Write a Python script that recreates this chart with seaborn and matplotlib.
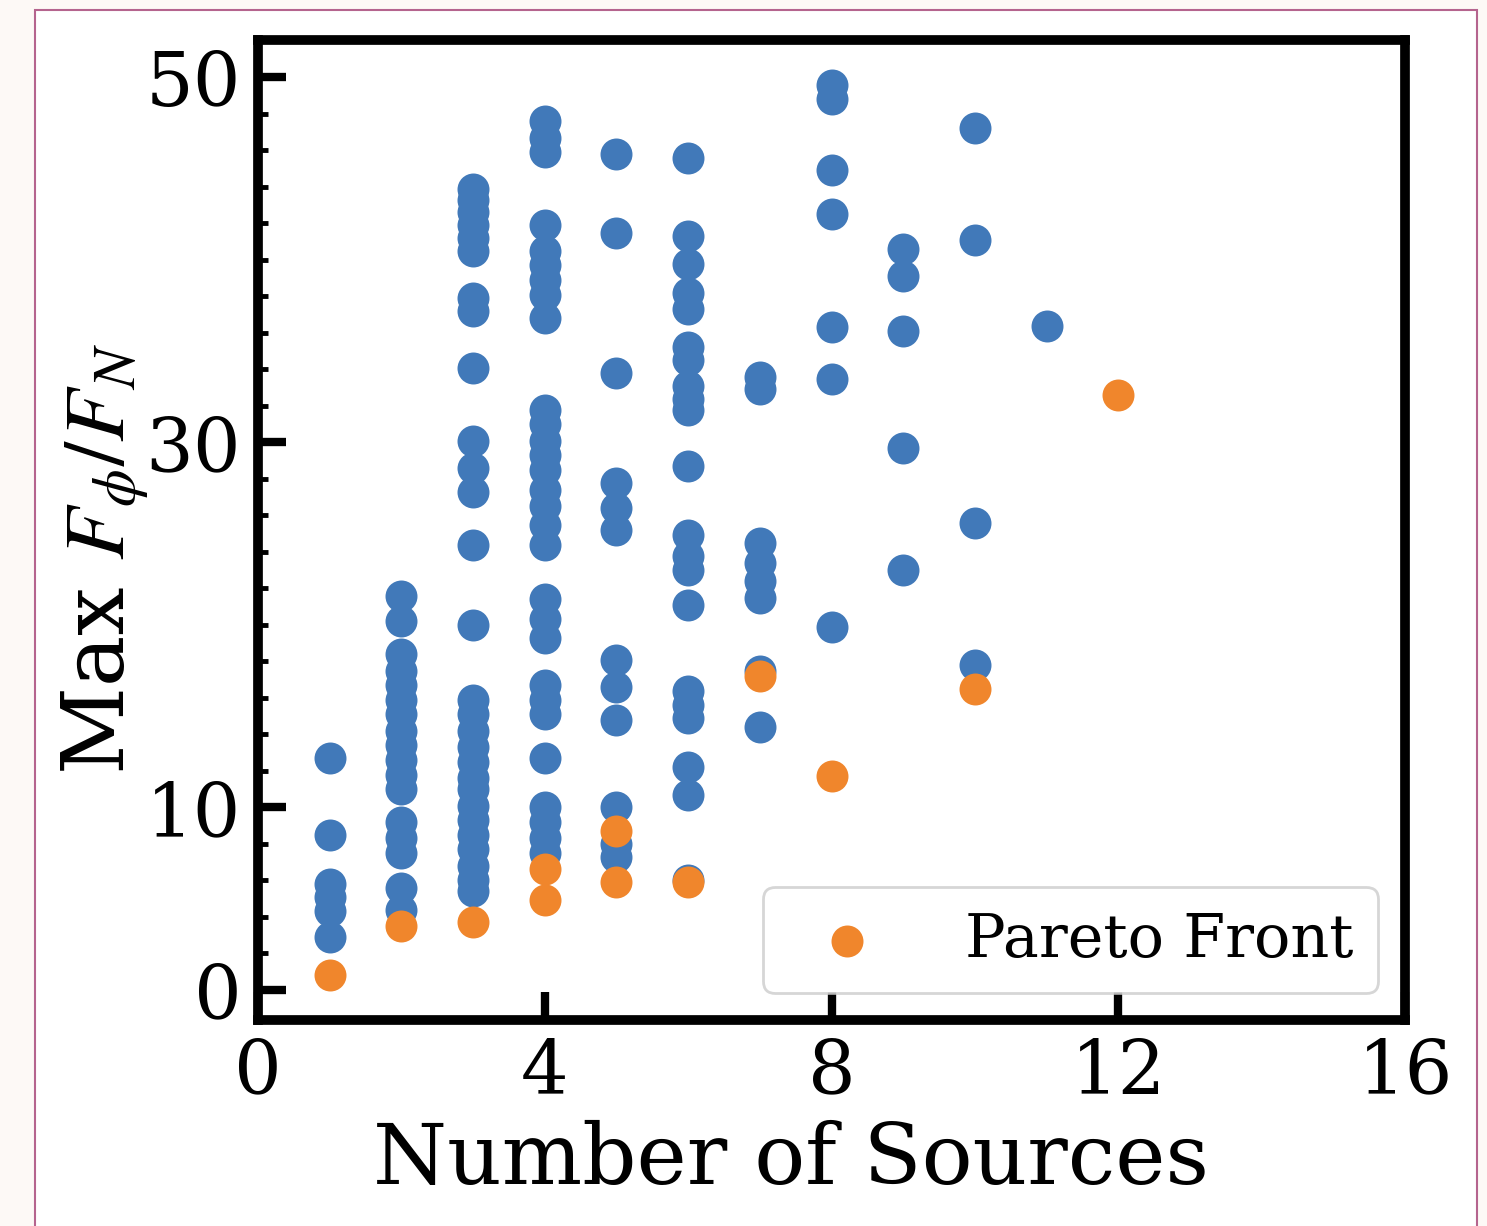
import matplotlib
matplotlib.use("Agg")
import matplotlib.pyplot as plt
import seaborn as sns
import pandas as pd
from matplotlib.patches import Rectangle
from matplotlib.ticker import MultipleLocator

# all designs: number of sources -> max F_phi/F_N
n1 = [12.7, 8.5, 5.8, 5.1, 4.3, 2.9]
n2 = [21.6, 20.2, 18.4, 17.5, 16.7, 15.9, 15.1, 14.2, 13.4, 12.6, 11.8, 11.0,
      9.2, 8.3, 7.5, 5.6, 4.4]
n3 = [43.9, 43.3, 42.6, 41.9, 41.2, 40.5, 37.9, 37.2, 34.1, 30.1, 28.6, 27.3,
      24.4, 20.0, 15.9, 15.1, 14.2, 13.3, 12.5, 11.6, 11.0, 10.1, 9.3, 8.5,
      7.7, 6.8, 6.0, 5.4]
n4 = [47.6, 46.7, 45.9, 41.9, 40.5, 39.7, 38.9, 38.1, 36.8, 31.8, 31.0, 30.1,
      29.3, 28.5, 27.4, 26.5, 25.5, 24.4, 21.4, 20.3, 19.3, 16.7, 15.9, 15.1,
      12.7, 10.0, 9.2, 8.3, 7.5]
n5 = [45.8, 41.5, 33.8, 27.8, 26.4, 25.2, 18.1, 16.6, 14.8, 10.0, 8.0, 7.3]
n6 = [45.6, 41.3, 39.8, 38.2, 37.3, 35.2, 34.5, 33.1, 32.4, 31.8, 28.7, 24.9,
      23.8, 23.0, 21.1, 16.4, 15.6, 14.9, 12.2, 10.7, 6.0]
n7 = [33.6, 32.9, 24.5, 23.4, 22.4, 21.5, 17.5, 14.4]
n8 = [49.6, 48.8, 44.9, 42.5, 36.3, 33.5, 19.9]
n9 = [40.6, 39.1, 36.1, 29.7, 23.0]
n10 = [47.2, 41.1, 25.6, 17.8]
n11 = [36.4]

pareto_x = [1, 2, 3, 4, 4, 5, 5, 6, 7, 8, 10, 12]
pareto_y = [0.8, 3.5, 3.7, 4.9, 6.6, 5.9, 8.7, 5.9, 17.2, 11.7, 16.5, 32.6]

groups = [n1, n2, n3, n4, n5, n6, n7, n8, n9, n10, n11]
rows = []
for i, vals in enumerate(groups):
    for v in vals:
        rows.append({"sources": i + 1, "ratio": v})
df = pd.DataFrame(rows)
pareto = pd.DataFrame({"sources": pareto_x, "ratio": pareto_y})

sns.set_style("ticks")
plt.rcParams["font.family"] = ["DejaVu Serif"]
plt.rcParams["mathtext.fontset"] = "stix"
for key in ["text.color", "axes.labelcolor", "xtick.color", "ytick.color"]:
    plt.rcParams[key] = "black"

fig = plt.figure(figsize=(14.87, 12.26), dpi=100)
fig.patch.set_facecolor("#fdf9f6")
fig.patches.append(Rectangle(
    (0.0235, -0.02), 0.9698, 1.0118,
    transform=fig.transFigure, facecolor="white",
    edgecolor="#b5648e", linewidth=1.5, zorder=-5
))

ax = fig.add_axes([0.1735, 0.168, 0.7714, 0.7994])
ax.set_facecolor("white")

sns.scatterplot(
    data=df, x="sources", y="ratio",
    color="#4179b9", s=530, linewidth=0, ax=ax, zorder=2
)
sns.scatterplot(
    data=pareto, x="sources", y="ratio",
    color="#f0862c", s=530, linewidth=0, ax=ax, zorder=3,
    label="Pareto Front"
)

ax.set_xlim(0, 16)
ax.set_ylim(-1.65, 52.05)
ax.set_xticks([0, 4, 8, 12, 16])
ax.set_yticks([0, 10, 30, 50])
ax.yaxis.set_minor_locator(MultipleLocator(2))

for side in ["left", "right", "top", "bottom"]:
    ax.spines[side].set_linewidth(7)
    ax.spines[side].set_color("black")

ax.tick_params(axis="both", which="major", direction="in", length=20,
               width=6, labelsize=54, pad=12)
ax.tick_params(axis="y", which="minor", direction="in", length=7, width=3.5)

ax.set_xlabel("Number of Sources", fontsize=61)
ax.set_ylabel(r"Max $F_\phi/F_N$", fontsize=62)
ax.xaxis.set_label_coords(0.465, -0.102)
ax.yaxis.set_label_coords(-0.093, 0.47)

leg = ax.legend(loc="lower right", fontsize=43.5, frameon=True,
                handletextpad=0.95, borderaxespad=0.45)
leg.get_frame().set_edgecolor("#cccccc")
leg.get_frame().set_linewidth(2)

fig.savefig("out.png", dpi=100, facecolor=fig.get_facecolor())
